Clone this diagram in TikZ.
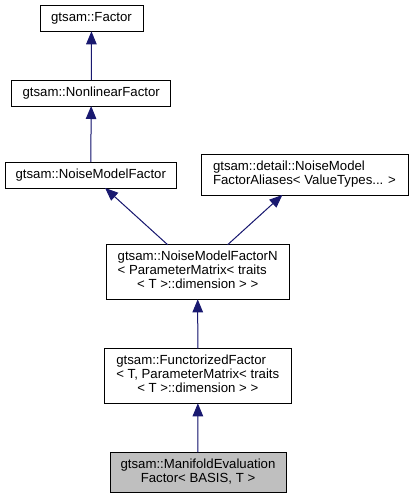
\documentclass[tikz,border=0pt]{standalone}
\usepackage{fontspec}
\setmainfont{Liberation Sans}
\usetikzlibrary{arrows.meta}
\definecolor{edgeblue}{HTML}{191970}
\definecolor{grayfill}{HTML}{BFBFBF}
\newcommand{\boxtext}[2]{\begin{tabular}{@{}l@{}}#1\multicolumn{1}{@{}c@{}}{#2}\end{tabular}}
\tikzset{
  cls/.style={draw=black, line width=0.9pt, fill=white, inner sep=0pt, outer sep=0pt,
    font=\fontsize{13.2}{14}\selectfont, align=center},
  inh/.style={draw=edgeblue, line width=1pt, -{Triangle[length=13pt,width=10.5pt]}, fill=edgeblue},
}
\begin{document}
\begin{tikzpicture}[x=1pt,y=-1pt]
\useasboundingbox (0,0) rectangle (413,499);
\node[cls, minimum width=103pt, minimum height=26pt] (factor) at (91.5,18.3) {gtsam::Factor};
\node[cls, minimum width=159pt, minimum height=26pt] (nlf) at (91.2,93) {gtsam::NonlinearFactor};
\node[cls, minimum width=171.7pt, minimum height=26pt] (nmf) at (90.8,175) {gtsam::NoiseModelFactor};
\node[cls, minimum width=207pt, minimum height=40.3pt] (detail) at (304.5,174.8)
  {\boxtext{gtsam::detail::NoiseModel\\}{FactorAliases< ValueTypes... >}};
\node[cls, minimum width=182.7pt, minimum height=54.6pt] (nmfn) at (197.7,272)
  {\boxtext{gtsam::NoiseModelFactorN\\< ParameterMatrix< traits\\}{< T >::dimension > >}};
\node[cls, minimum width=187pt, minimum height=54.6pt] (func) at (197.8,376)
  {\boxtext{gtsam::FunctorizedFactor\\< T, ParameterMatrix< traits\\}{< T >::dimension > >}};
\node[cls, fill=grayfill, minimum width=176pt, minimum height=40pt] (manif) at (198,472.3)
  {\boxtext{gtsam::ManifoldEvaluation\\}{Factor< BASIS, T >}};
\draw[inh] (nlf) -- (factor);
\draw[inh] (nmf) -- (nlf);
\draw[inh] (nmfn) -- (nmf);
\draw[inh] (nmfn) -- (detail);
\draw[inh] (func) -- (nmfn);
\draw[inh] (manif) -- (func);
\end{tikzpicture}
\end{document}
